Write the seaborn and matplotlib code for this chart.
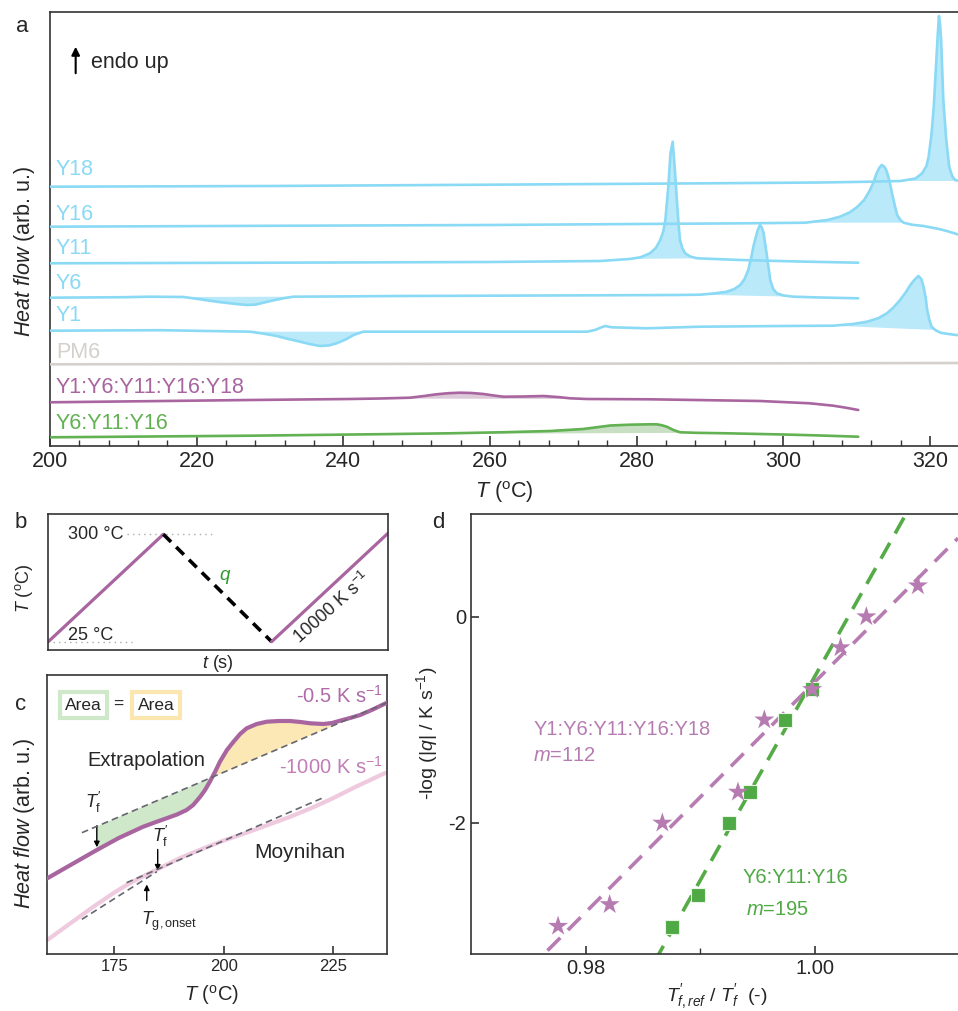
import numpy as np
import pandas as pd
import matplotlib.pyplot as plt
from matplotlib.ticker import FixedLocator
import seaborn as sns

# ---------------- panel a: DSC heating traces (T in degC, stacked heat flow, arb. u.) ----------------
y18_T = [200, 230, 260, 290, 305, 312, 316, 318, 318.9, 319.5, 319.8, 320.2, 320.5, 320.8, 321.05,
         321.2, 321.35, 321.5, 321.8, 322.2, 322.6, 323.0, 323.4, 324]
y18_hf = [259.3, 260, 261.3, 262.7, 263.5, 264.3, 265, 267.5, 272.7, 280, 289.3, 312.7, 340, 380, 412.7,
          430, 422, 406, 346, 306, 279.3, 270, 266, 265]

y16_T = [200, 230, 260, 280, 295, 303, 306, 307.7, 309, 310, 311, 311.8, 312.3, 312.7, 313.1, 313.4,
         313.8, 314.1, 314.5, 314.8, 315.2, 315.5, 316, 316.4, 317.5, 319.1, 321.4, 322.5, 323.6, 324]
y16_hf = [219.3, 220.2, 221, 222, 222.7, 223.3, 226, 229.3, 233.5, 238.7, 246, 256, 264, 272.7, 278.5, 281,
          279, 274.3, 264, 252.7, 240, 231, 225.5, 223.3, 221.3, 220, 216.7, 214.5, 212, 211]

y11_T = [200, 230, 260, 275, 279, 280.5, 281.8, 282.6, 283.2, 283.6, 283.9, 284.3, 284.6, 284.9, 285.1,
         285.3, 285.5, 285.7, 285.9, 286.2, 286.6, 287.3, 288.2, 294.1, 302, 310.2]
y11_hf = [182.7, 183.3, 184, 185, 187, 188.7, 192.7, 198, 206, 214, 226, 259.3, 292.7, 304.3, 286,
          265, 242.7, 222, 206, 198, 192.7, 189.5, 187.7, 186, 184.5, 183.3]

y6_T = [200, 210, 213.6, 218.2, 220.5, 222.7, 225, 226.8, 228, 229.1, 230.5, 231.8, 233.2, 240, 247.7,
        260, 275, 285, 288.6, 290.5, 292.3, 293.3, 294.1, 294.7, 295.2, 295.6, 295.9, 296.2, 296.5,
        296.8, 297.05, 297.3, 297.7, 298.2, 298.6, 299.1, 300, 301.4, 305, 310.2]
y6_hf = [148.3, 148.8, 149.3, 149, 146.7, 144.3, 142.3, 141, 141.3, 143.3, 145.7, 147.7, 149.3, 149.6, 150,
         150.3, 150.7, 151, 151.3, 152.5, 154.3, 157, 161, 167, 176, 188, 199.3, 208, 216,
         221, 218.5, 212.7, 192.7, 166, 157, 152.7, 150.5, 149.3, 148.5, 147.7]

y1_T = [200, 215, 227.3, 229, 230.9, 232.5, 234.1, 235.5, 236.8, 238, 239.1, 240.3, 241.4, 242.7, 247.7,
        260, 273.2, 274.3, 275.2, 275.7, 276.6, 281.4, 288.6, 300, 306.8, 309.5, 311.4, 313, 314.1,
        315, 315.9, 316.7, 317.3, 317.9, 318.4, 318.8, 319.1, 319.4, 319.6, 319.9, 320.2, 320.7,
        321.4, 322.5, 323.6, 324]
y1_hf = [115.3, 115.8, 114.3, 112.5, 110, 107, 104.3, 101.8, 100, 100.5, 102.7, 106.5, 111, 114.3, 114.3,
         114.3, 114.3, 116, 118.7, 120, 118.7, 117.7, 119.3, 120, 120.3, 122, 124.3, 128, 132.7,
         138.5, 146, 154, 161, 166.5, 170, 167, 159.3, 148, 136, 126, 119.3, 116,
         113.3, 112, 111, 110.8]

pm6_T = [200, 260, 324]
pm6_hf = [81.7, 82.2, 83]

mix5_T = [200, 227.3, 240.9, 245, 249.1, 251, 252.7, 254.3, 255.9, 257.5, 259.1, 260.5, 261.8, 264.5,
          267.3, 269.5, 270.9, 273.2, 281.8, 296.8, 303.6, 306.8, 308.5, 310.2]
mix5_hf = [43.7, 46, 47, 47.5, 48.3, 50, 51.7, 52.8, 53.3, 53, 52, 50.5, 49.3, 49.5,
           50, 48.8, 47.7, 47, 46.7, 45, 42.7, 40.3, 38.3, 36]

mix3_T = [200, 227.3, 245, 254.5, 262, 268.2, 272.7, 276.4, 279, 281.8, 282.7, 283.4, 284.1, 285,
          285.9, 288, 292.3, 300, 305, 310.2]
mix3_hf = [8.7, 10.3, 11.8, 12.7, 13.8, 15, 17, 20.5, 21.3, 21.7, 21.7, 20.8, 19.3, 16,
           13.7, 13.2, 12.7, 11.5, 10.5, 9.3]

# ---------------- panel b: temperature program ----------------
b_time = [0, 0.339, 0.658, 1.0]
b_temp = [25, 300, 25, 302]

# ---------------- panel c: fictive temperature construction ----------------
c_slow_T = [159.7, 165, 171.0, 176, 181.6, 184.5, 186.9, 189.3, 191.5, 193.0, 194.6, 195.7, 196.8,
            198.0, 199.1, 200.7, 202.2, 203.7, 205.2, 207.5, 209.8, 212.5, 215.1, 217.5, 219.7,
            222.7, 224.7, 226.5, 228.8, 231.1, 234.0, 237.2]
c_slow_hf = [75.7, 89, 104, 116, 127.3, 132, 135.7, 139.5, 144, 149, 157.3, 164, 172.3,
             182.3, 192.3, 204, 212.3, 220, 225.7, 230, 232.3, 233, 233, 232, 230.7,
             230, 231, 233.3, 236, 239, 244.5, 251.3]
c_extrap_T = [167.6, 237.2]
c_extrap_hf = [121.3, 251.3]
c_fast_T = [159.7, 165, 170, 175, 178, 181, 185, 190, 195, 200, 205, 210, 215, 220, 225, 230, 236.8]
c_fast_hf = [14, 30.8, 46.6, 61.5, 69.5, 76.5, 85, 96, 105, 113.5, 121, 129, 137, 146, 156, 167, 181]
c_moy_liq_T = [177.8, 223.2]
c_moy_liq_hf = [71.3, 157.3]
c_moy_gl_T = [167.6, 184.7]
c_moy_gl_hf = [34.7, 82.3]

# ---------------- panel d: fragility plot ----------------
mix5_ratio = [0.9776, 0.9821, 0.9867, 0.9933, 0.9956, 0.99977, 1.00225, 1.0045, 1.0090]
mix5_logq = [-3.0, -2.79, -2.0, -1.70, -1.0, -0.705, -0.30, 0.0, 0.30]
mix3_ratio = [0.98752, 0.98985, 0.99248, 0.99439, 0.99737, 0.99977]
mix3_logq = [-3.01, -2.70, -2.0, -1.70, -1.0, -0.705]

BLUE = "#8ad9f5"
BLUE_FILL = "#bae9fa"
PURPLE = "#a8659f"
PURPLE_FILL = "#dccad8"
GREEN = "#62b152"
GREEN_FILL = "#c9dfc4"
GRAY = "#d4d0cb"
SPINE = "#333333"

sns.set_theme(style="ticks")
plt.rcParams["font.family"] = ["Liberation Sans", "DejaVu Sans"]
plt.rcParams["mathtext.fontset"] = "custom"
plt.rcParams["mathtext.rm"] = "Liberation Sans"
plt.rcParams["mathtext.it"] = "Liberation Sans:italic"
plt.rcParams["mathtext.bf"] = "Liberation Sans:bold"
plt.rcParams["axes.edgecolor"] = SPINE
plt.rcParams["axes.linewidth"] = 1.2

fig = plt.figure(figsize=(9.58, 10.11), dpi=100)
W, H = 958, 1011


def px_axes(l, t, r, b):
    return fig.add_axes([l / W, 1 - b / H, (r - l) / W, (b - t) / H])


def fill_peak(ax, T, y, lo, hi, color):
    T = np.asarray(T)
    y = np.asarray(y)
    m = (T >= lo) & (T <= hi)
    ax.fill(T[m], y[m], color=color, lw=0, zorder=1)


ax_a = px_axes(50, 12, 958, 446)
ax_b = px_axes(48.3, 514, 387.7, 650)
ax_c = px_axes(47.3, 675, 387.3, 954)
ax_d = px_axes(471, 514, 958, 954)

# ---------------- a ----------------
traces = [
    ("Y18", y18_T, y18_hf, BLUE, [(316, 324)], 277),
    ("Y16", y16_T, y16_hf, BLUE, [(303, 316.4)], 232),
    ("Y11", y11_T, y11_hf, BLUE, [(279, 288.2)], 198),
    ("Y6", y6_T, y6_hf, BLUE, [(218.2, 233.2), (288.6, 301.4)], 163),
    ("Y1", y1_T, y1_hf, BLUE, [(227.3, 242.7), (306.8, 320.7)], 131),
    ("PM6", pm6_T, pm6_hf, GRAY, [], 94),
    ("Y1:Y6:Y11:Y16:Y18", mix5_T, mix5_hf, PURPLE, [(245, 273.2)], 59),
    ("Y6:Y11:Y16", mix3_T, mix3_hf, GREEN, [(245, 288)], 23),
]
fill_col = {BLUE: BLUE_FILL, PURPLE: PURPLE_FILL, GREEN: GREEN_FILL, GRAY: GRAY}
for name, T, hf, col, fills, ylab in traces:
    for lo, hi in fills:
        fill_peak(ax_a, T, hf, lo, hi, fill_col[col])
    sns.lineplot(x=T, y=hf, color=col, lw=1.9, ax=ax_a, legend=False, zorder=3)
    ax_a.text(200.8, ylab, name, color=col, fontsize=15.5, ha="left", va="center")

ax_a.annotate("", xy=(203.5, 402), xytext=(203.5, 370),
              arrowprops=dict(arrowstyle="-|>", color="black", lw=1.5, mutation_scale=12))
ax_a.text(205.6, 384, "endo up", fontsize=15.5, ha="left", va="center")
ax_a.set_xlim(200, 323.8)
ax_a.set_ylim(0, 434)
ax_a.set_yticks([])
ax_a.set_xticks([200, 220, 240, 260, 280, 300, 320])
ax_a.xaxis.set_minor_locator(FixedLocator(np.arange(204, 324, 4)))
ax_a.spines["right"].set_visible(False)
ax_a.tick_params(axis="x", which="major", direction="in", length=7, width=1.2, labelsize=15.5, color=SPINE)
ax_a.tick_params(axis="x", which="minor", direction="in", length=4, width=1.0, color=SPINE)
ax_a.set_xlabel(r"$T$ ($^{\rm o}$C)", fontsize=15.5, va="center")
ax_a.xaxis.set_label_coords(0.5, -0.106)
ax_a.set_ylabel(r"$\mathit{Heat\ flow}$ (arb. u.)", fontsize=15.5, va="center")
ax_a.yaxis.set_label_coords(-0.0286, 0.449)

# ---------------- b ----------------
sns.lineplot(x=b_time[0:2], y=b_temp[0:2], color=PURPLE, lw=2.3, ax=ax_b, legend=False)
sns.lineplot(x=b_time[1:3], y=b_temp[1:3], color="black", lw=2.6, ax=ax_b, legend=False,
             linestyle=(0, (3, 2)))
sns.lineplot(x=b_time[2:4], y=b_temp[2:4], color=PURPLE, lw=2.3, ax=ax_b, legend=False)
ax_b.plot([0.231, 0.486], [b_temp[1], b_temp[1]], ls=(0, (1, 3)), color="#aaaaaa", lw=1, zorder=0)
ax_b.plot([0.014, 0.246], [b_temp[0], b_temp[0]], ls=(0, (1, 3)), color="#aaaaaa", lw=1, zorder=0)
ax_b.text(0.222, 300, "300 °C", fontsize=13, ha="right", va="center")
ax_b.text(0.19, 41, "25 °C", fontsize=13, ha="right", va="center")
ax_b.text(0.52, 191, "$q$", fontsize=13.5, color="#2f9a2f", ha="center", va="center")
ax_b.text(0.835, 112, "10000 K s$^{-1}$", fontsize=13, rotation=41.5, rotation_mode="anchor",
          ha="center", va="center")
ax_b.set_xlim(0, 1)
ax_b.set_ylim(3.7, 352)
ax_b.set_xticks([])
ax_b.set_yticks([])
ax_b.set_xlabel(r"$t$ (s)", fontsize=13, va="center")
ax_b.xaxis.set_label_coords(0.5, -0.096)
ax_b.set_ylabel(r"$T$ ($^{\rm o}$C)", fontsize=13, va="center")
ax_b.yaxis.set_label_coords(-0.073, 0.456)

# ---------------- c ----------------
slow_T = np.asarray(c_slow_T)
slow_hf = np.asarray(c_slow_hf)
line_hf = np.interp(slow_T, c_extrap_T, c_extrap_hf)
ax_c.fill_between(slow_T, slow_hf, line_hf, where=(slow_T >= 171) & (line_hf >= slow_hf),
                  interpolate=True, color="#cfe8c9", lw=0, zorder=1)
ax_c.fill_between(slow_T, slow_hf, line_hf, where=(slow_T >= 190) & (slow_hf >= line_hf),
                  interpolate=True, color="#fbe8b5", lw=0, zorder=1)
sns.lineplot(x=c_fast_T, y=c_fast_hf, color="#efcadf", lw=3, ax=ax_c, legend=False, zorder=2)
sns.lineplot(x=c_slow_T, y=c_slow_hf, color=PURPLE, lw=3, ax=ax_c, legend=False, zorder=3)
for xs, ys in [(c_extrap_T, c_extrap_hf), (c_moy_liq_T, c_moy_liq_hf), (c_moy_gl_T, c_moy_gl_hf)]:
    ax_c.plot(xs, ys, color="#666670", lw=1.2, ls=(0, (4, 2.5)), zorder=4)

ax_c.text(167.9, 249, "Area", fontsize=12.5, ha="center", va="center",
          bbox=dict(boxstyle="square,pad=0.3", fc="white", ec="#cfe8c9", lw=3))
ax_c.text(175.9, 250, "=", fontsize=12.5, ha="center", va="center")
ax_c.text(184.5, 249, "Area", fontsize=12.5, ha="center", va="center",
          bbox=dict(boxstyle="square,pad=0.3", fc="white", ec="#fbe6b0", lw=3))
ax_c.text(236.3, 258, "-0.5 K s$^{-1}$", fontsize=14.5, color="#b06aa8", ha="right", va="center")
ax_c.text(236.3, 187, "-1000 K s$^{-1}$", fontsize=14.5, color="#c27db8", ha="right", va="center")
ax_c.text(182.2, 193, "Extrapolation", fontsize=14.5, ha="center", va="center")
ax_c.text(217.4, 102, "Moynihan", fontsize=15, ha="center", va="center")
ax_c.text(170.2, 152, r"$T^{\prime}_{\rm f}$", fontsize=13, ha="center", va="center")
ax_c.text(185.6, 118, r"$T^{\prime}_{\rm f}$", fontsize=13, ha="center", va="center")
ax_c.text(187.5, 33, r"$T_{\rm g,onset}$", fontsize=13, ha="center", va="center")
arrow = dict(arrowstyle="-|>", color="black", lw=1.0, mutation_scale=8)
ax_c.annotate("", xy=(171.0, 104), xytext=(171.0, 131), arrowprops=arrow)
ax_c.annotate("", xy=(184.9, 80.7), xytext=(184.9, 107.3), arrowprops=arrow)
ax_c.annotate("", xy=(182.4, 72.3), xytext=(182.4, 50.7), arrowprops=arrow)
ax_c.set_xlim(159.7, 237.3)
ax_c.set_ylim(0, 279)
ax_c.set_xticks([175, 200, 225])
ax_c.set_yticks([])
ax_c.tick_params(axis="x", direction="in", length=6, width=1.2, labelsize=12, color=SPINE)
ax_c.set_xlabel(r"$T$ ($^{\rm o}$C)", fontsize=14.5, va="center")
ax_c.xaxis.set_label_coords(0.484, -0.147)
ax_c.set_ylabel(r"$\mathit{Heat\ flow}$ (arb. u.)", fontsize=15.5, va="center")
ax_c.yaxis.set_label_coords(-0.066, 0.468)

# ---------------- d ----------------
ax_d.set_xlim(0.97, 1.0125)
ax_d.set_ylim(-3.27, 0.995)
STAR = "#b67cb1"
SQ = "#4fa944"
sns.regplot(x=mix5_ratio, y=mix5_logq, scatter=False, ci=None, truncate=False, ax=ax_d,
            line_kws=dict(color="#b77db2", lw=2.6, ls=(0, (5, 3)), zorder=2))
sns.regplot(x=mix3_ratio, y=mix3_logq, scatter=False, ci=None, truncate=False, ax=ax_d,
            line_kws=dict(color="#55ab46", lw=2.6, ls=(0, (5, 3)), zorder=2))
sns.scatterplot(x=mix3_ratio, y=mix3_logq, marker="s", s=95, color=SQ, edgecolor="#e8f4e4",
                linewidth=0.8, ax=ax_d, legend=False, zorder=3)
sns.scatterplot(x=mix5_ratio, y=mix5_logq, marker="*", s=230, color=STAR, edgecolor="none",
                ax=ax_d, legend=False, zorder=4)
ax_d.text(0.97544, -1.09, "Y1:Y6:Y11:Y16:Y18", color=STAR, fontsize=14.5, ha="left", va="center")
ax_d.text(0.97538, -1.35, "$m$=112", color=STAR, fontsize=14.5, ha="left", va="center")
ax_d.text(0.99371, -2.53, "Y6:Y11:Y16", color="#4fa944", fontsize=14.5, ha="left", va="center")
ax_d.text(0.9940, -2.84, "$m$=195", color="#4fa944", fontsize=14.5, ha="left", va="center")
ax_d.set_xlim(0.97, 1.0125)
ax_d.set_ylim(-3.27, 0.995)
ax_d.set_xticks([0.98, 1.00])
ax_d.set_xticklabels(["0.98", "1.00"])
ax_d.xaxis.set_minor_locator(FixedLocator([0.99]))
ax_d.set_yticks([0, -2])
ax_d.set_yticklabels(["0", "-2"])
ax_d.spines["right"].set_visible(False)
ax_d.tick_params(which="major", direction="in", length=6, width=1.2, labelsize=14.5, color=SPINE)
ax_d.tick_params(which="minor", direction="in", length=4, width=1.0, color=SPINE)
ax_d.set_xlabel(r"$T^{\prime}_{f,ref}$ / $T^{\prime}_{f}$  (-)", fontsize=14, va="center")
ax_d.xaxis.set_label_coords(0.504, -0.097)
ax_d.set_ylabel(r"-log (|$q$| / K s$^{-1}$)", fontsize=14, va="center")
ax_d.yaxis.set_label_coords(-0.09, 0.502)

# panel letters
for letter, x, y in [("a", 16, 27), ("b", 15, 522), ("c", 15, 705), ("d", 432, 522)]:
    fig.text(x / W, 1 - y / H, letter, fontsize=16, ha="left", va="center")

fig.savefig("out.png", dpi=100)
